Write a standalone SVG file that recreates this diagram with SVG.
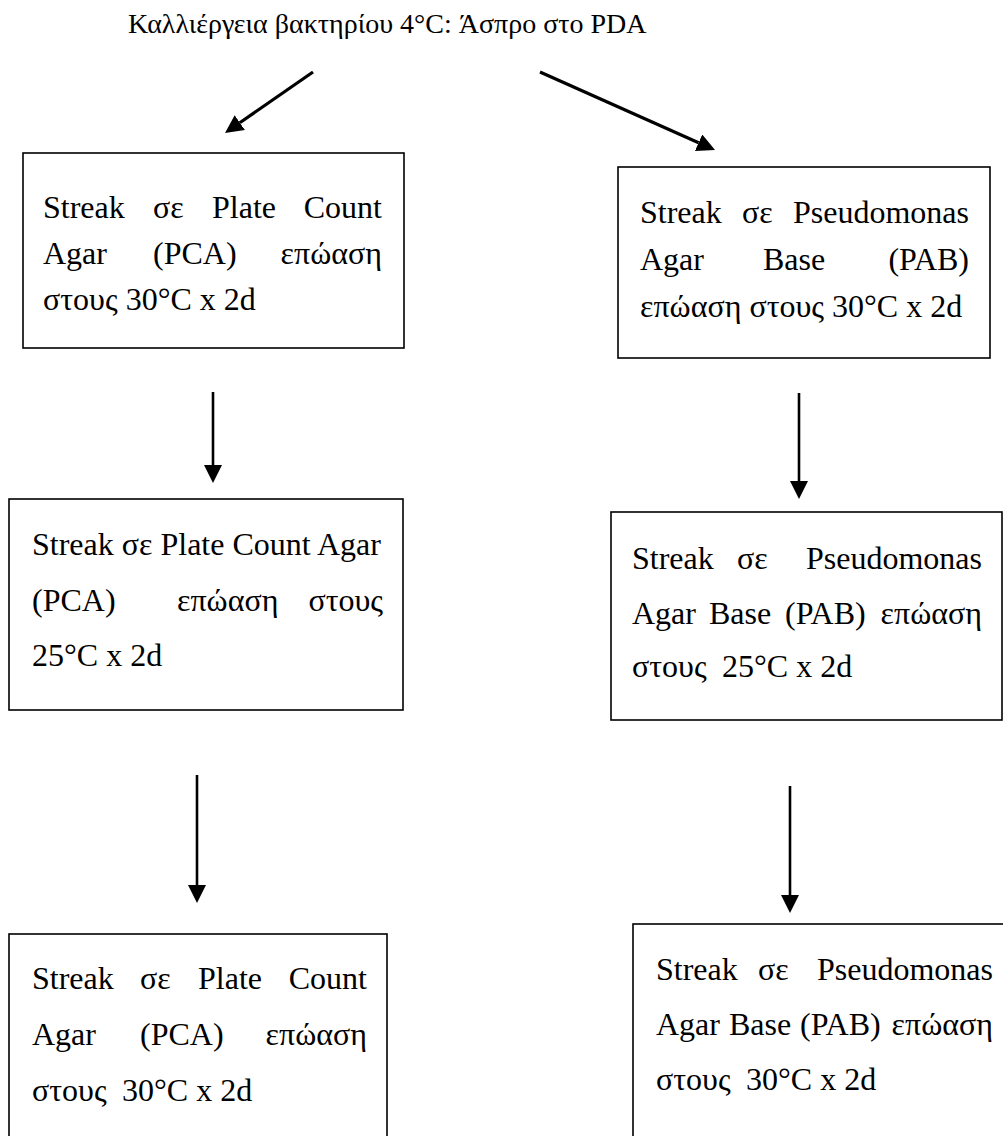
<svg xmlns="http://www.w3.org/2000/svg" width="1003" height="1136" viewBox="0 0 1003 1136" xml:lang="el">
  <style>
    .box { fill: #ffffff; stroke: #000000; stroke-width: 1.6; }
    text { font-family: "Liberation Serif", "Times New Roman", serif; fill: #000000; }
    .lbl { font-size: 32px; }
    .end { text-anchor: end; }
    .title { font-size: 28px; }
    .arrow { stroke: #000000; fill: none; marker-end: url(#head); }
    .diag { stroke-width: 3.2; }
    .vert { stroke-width: 2.6; }
  </style>
  <defs>
    <marker id="head" markerUnits="userSpaceOnUse" markerWidth="18" markerHeight="18" refX="0" refY="9" orient="auto" viewBox="0 0 18 18">
      <path d="M0,0 L18,9 L0,18 Z" fill="#000000"/>
    </marker>
  </defs>
  <rect width="1003" height="1136" fill="#ffffff"/>

  <g id="title">
    <text class="title" x="128" y="33">Καλλιέργεια βακτηρίου 4°C: Άσπρο στο PDA</text>
  </g>

  <!-- connectors: each line stops at the arrowhead base, the marker adds the tip -->
  <g id="connectors">
    <line class="arrow diag" x1="313" y1="72" x2="239.8" y2="122.7"/>
    <line class="arrow diag" x1="540" y1="72" x2="698.6" y2="142.7"/>
    <line class="arrow vert" x1="213" y1="392" x2="213" y2="465"/>
    <line class="arrow vert" x1="799" y1="393" x2="799" y2="481"/>
    <line class="arrow vert" x1="197" y1="775" x2="197" y2="885"/>
    <line class="arrow vert" x1="790" y1="786" x2="790" y2="895"/>
  </g>

  <!-- justified lines: first word left-aligned, last word right-aligned -->
  <g id="pca-30-first">
    <rect class="box" x="23" y="153" width="381" height="195"/>
    <text class="lbl" x="43" y="218">Streak</text>
    <text class="lbl" x="153" y="218">σε</text>
    <text class="lbl" x="212" y="218">Plate</text>
    <text class="lbl end" x="382" y="218">Count</text>
    <text class="lbl" x="43" y="264">Agar</text>
    <text class="lbl" x="153" y="264">(PCA)</text>
    <text class="lbl end" x="382" y="264">επώαση</text>
    <text class="lbl" x="43" y="310">στους 30°C x 2d</text>
  </g>

  <g id="pab-30-first">
    <rect class="box" x="618" y="167" width="372" height="191"/>
    <text class="lbl" x="640" y="223">Streak</text>
    <text class="lbl" x="742" y="223">σε</text>
    <text class="lbl end" x="969" y="223">Pseudomonas</text>
    <text class="lbl" x="640" y="270">Agar</text>
    <text class="lbl" x="763" y="270">Base</text>
    <text class="lbl end" x="969" y="270">(PAB)</text>
    <text class="lbl" x="640" y="317">επώαση στους 30°C x 2d</text>
  </g>

  <g id="pca-25">
    <rect class="box" x="9" y="499" width="394" height="211"/>
    <text class="lbl" x="32" y="555">Streak σε Plate Count Agar</text>
    <text class="lbl" x="32" y="611">(PCA)</text>
    <text class="lbl" x="177" y="611">επώαση</text>
    <text class="lbl end" x="383" y="611">στους</text>
    <text class="lbl" x="32" y="666">25°C x 2d</text>
  </g>

  <g id="pab-25">
    <rect class="box" x="611" y="512" width="391" height="208"/>
    <text class="lbl" x="632" y="569">Streak</text>
    <text class="lbl" x="737" y="569">σε</text>
    <text class="lbl end" x="982" y="569">Pseudomonas</text>
    <text class="lbl" x="632" y="624">Agar</text>
    <text class="lbl" x="709" y="624">Base</text>
    <text class="lbl" x="785" y="624">(PAB)</text>
    <text class="lbl end" x="982" y="624">επώαση</text>
    <text class="lbl" x="632" y="677">στους</text>
    <text class="lbl" x="722" y="677">25°C x 2d</text>
  </g>

  <g id="pca-30-second">
    <rect class="box" x="9" y="934" width="378" height="220"/>
    <text class="lbl" x="32" y="989">Streak</text>
    <text class="lbl" x="140" y="989">σε</text>
    <text class="lbl" x="198" y="989">Plate</text>
    <text class="lbl end" x="367" y="989">Count</text>
    <text class="lbl" x="32" y="1045">Agar</text>
    <text class="lbl" x="140" y="1045">(PCA)</text>
    <text class="lbl end" x="367" y="1045">επώαση</text>
    <text class="lbl" x="32" y="1101">στους</text>
    <text class="lbl" x="122" y="1101">30°C x 2d</text>
  </g>

  <g id="pab-30-second">
    <rect class="box" x="633" y="924" width="390" height="230"/>
    <text class="lbl" x="656" y="980">Streak</text>
    <text class="lbl" x="758" y="980">σε</text>
    <text class="lbl end" x="993" y="980">Pseudomonas</text>
    <text class="lbl" x="656" y="1035">Agar</text>
    <text class="lbl" x="729" y="1035">Base</text>
    <text class="lbl" x="800" y="1035">(PAB)</text>
    <text class="lbl end" x="993" y="1035">επώαση</text>
    <text class="lbl" x="656" y="1090">στους</text>
    <text class="lbl" x="746" y="1090">30°C x 2d</text>
  </g>
</svg>
